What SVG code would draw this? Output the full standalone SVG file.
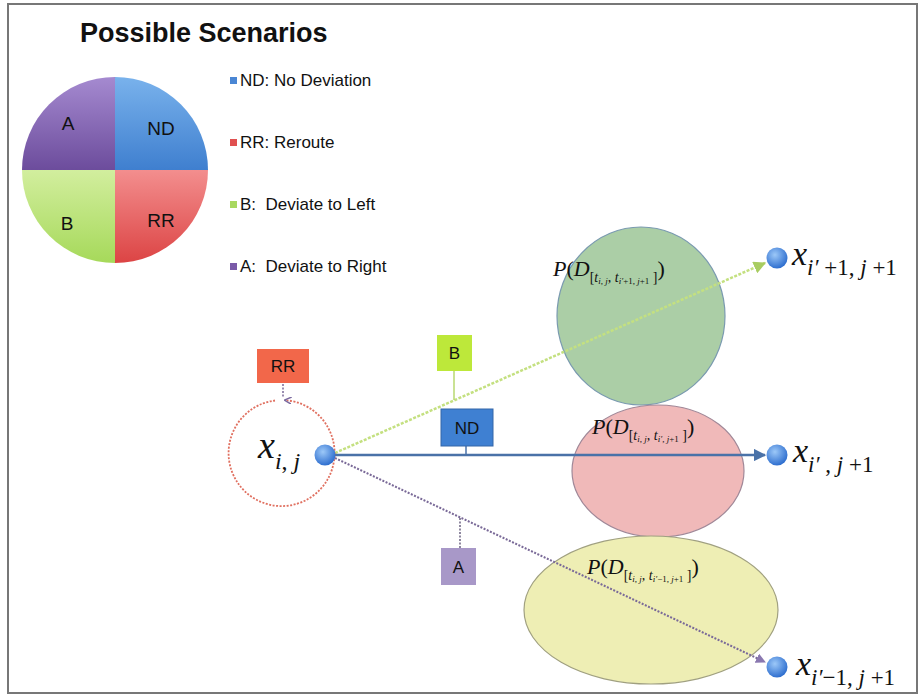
<svg xmlns="http://www.w3.org/2000/svg" width="923" height="698" viewBox="0 0 923 698">
<style>
.sans{font-family:"Liberation Sans",Arial,sans-serif;fill:#111}
.math{font-family:"Liberation Serif","Times New Roman",serif;fill:#111}
.it{font-style:italic}
.box{stroke:none}
</style>
<defs>
<linearGradient id="gA" x1="0" y1="0" x2="0" y2="1"><stop offset="0" stop-color="#a58ad0"/><stop offset="1" stop-color="#6c4c9c"/></linearGradient>
<linearGradient id="gND" x1="0" y1="0" x2="0" y2="1"><stop offset="0" stop-color="#79b2ec"/><stop offset="1" stop-color="#3f7fcf"/></linearGradient>
<linearGradient id="gB" x1="0" y1="0" x2="0" y2="1"><stop offset="0" stop-color="#d2ee9e"/><stop offset="1" stop-color="#a6d95a"/></linearGradient>
<linearGradient id="gRR" x1="0" y1="0" x2="0" y2="1"><stop offset="0" stop-color="#f38e8e"/><stop offset="1" stop-color="#dc4444"/></linearGradient>
<radialGradient id="gNode" cx="0.4" cy="0.35" r="0.65"><stop offset="0" stop-color="#9cc8f8"/><stop offset="1" stop-color="#2f6fcf"/></radialGradient>
<marker id="arrB" viewBox="0 0 10 10" refX="9" refY="5" markerWidth="5" markerHeight="5" orient="auto"><path d="M0,0 L10,5 L0,10 Z" fill="#4a72a8"/></marker>
<marker id="arrG" viewBox="0 0 10 10" refX="9" refY="5" markerWidth="5" markerHeight="5" orient="auto"><path d="M0,0 L10,5 L0,10 Z" fill="#a8cc60"/></marker>
<marker id="arrP" viewBox="0 0 10 10" refX="9" refY="5" markerWidth="5" markerHeight="5" orient="auto"><path d="M0,0 L10,5 L0,10 Z" fill="#8a78b0"/></marker>
<marker id="arrR" viewBox="0 0 10 10" refX="9" refY="5" markerWidth="4" markerHeight="4" orient="auto"><path d="M0,0 L10,5 L0,10" fill="none" stroke="#7a6aa0" stroke-width="2"/></marker>
</defs>
<rect x="0" y="0" width="923" height="698" fill="#ffffff"/>
<rect x="8" y="4" width="909" height="689" fill="none" stroke="#777" stroke-width="2"/>

<g id="legend">
<text class="sans" x="80" y="42" font-size="27" font-weight="bold">Possible Scenarios</text>
<path d="M115,170 L22,170 A93,93 0 0 1 115,77 Z" fill="url(#gA)"/>
<path d="M115,170 L115,77 A93,93 0 0 1 208,170 Z" fill="url(#gND)"/>
<path d="M115,170 L208,170 A93,93 0 0 1 115,263 Z" fill="url(#gRR)"/>
<path d="M115,170 L115,263 A93,93 0 0 1 22,170 Z" fill="url(#gB)"/>
<text class="sans" x="68" y="130" font-size="19" text-anchor="middle">A</text>
<text class="sans" x="161" y="135" font-size="19" text-anchor="middle">ND</text>
<text class="sans" x="67" y="230" font-size="19" text-anchor="middle">B</text>
<text class="sans" x="161" y="227" font-size="19" text-anchor="middle">RR</text>
<rect x="230" y="77" width="7" height="7" fill="#4a86d4"/>
<text class="sans" x="240" y="86" font-size="17">ND: No Deviation</text>
<rect x="230" y="139" width="7" height="7" fill="#e05050"/>
<text class="sans" x="240" y="148" font-size="17">RR: Reroute</text>
<rect x="230" y="201" width="7" height="7" fill="#a8d860"/>
<text class="sans" x="240" y="210" font-size="17" xml:space="preserve">B:  Deviate to Left</text>
<rect x="230" y="263" width="7" height="7" fill="#7a5aa8"/>
<text class="sans" x="240" y="272" font-size="17" xml:space="preserve">A:  Deviate to Right</text>
</g>

<g id="regions">
<ellipse cx="641" cy="316" rx="84" ry="89" fill="#abcea6" stroke="#7a9ab0" stroke-width="1.2"/>
<ellipse cx="658" cy="471" rx="86" ry="66" fill="#f0b9b9" stroke="#a08898" stroke-width="1.2"/>
<ellipse cx="651" cy="610" rx="127" ry="74" fill="#eeeeb4" stroke="#a0a080" stroke-width="1.2"/>
</g>

<g id="connectors">
<line x1="335" y1="453" x2="765" y2="263" stroke="#c4e080" stroke-width="2.5" stroke-dasharray="3,1.5" marker-end="url(#arrG)"/>
<line x1="335" y1="455" x2="765" y2="455" stroke="#4a72a8" stroke-width="2.5" marker-end="url(#arrB)"/>
<line x1="335" y1="458" x2="765" y2="662" stroke="#7a6a98" stroke-width="2" stroke-dasharray="2,1.5" marker-end="url(#arrP)"/>
<path d="M275,400.5 A53,53 0 1 0 285,400.2" fill="none" stroke="#e07060" stroke-width="1.8" stroke-dasharray="2,1.5" marker-end="url(#arrR)"/>
<line x1="283" y1="384" x2="283" y2="398" stroke="#7a6a98" stroke-width="1.5" stroke-dasharray="2,1.5"/>
<line x1="454" y1="371" x2="454" y2="400" stroke="#b8d870" stroke-width="1.5"/>
<line x1="466" y1="446" x2="466" y2="455" stroke="#4a72a8" stroke-width="1.5"/>
<line x1="460" y1="548" x2="460" y2="518" stroke="#6a6080" stroke-width="1.5" stroke-dasharray="2,1.5"/>
</g>

<g id="rr-box">
<rect class="box" x="257" y="349" width="52" height="34" fill="#f2674a"/>
<text class="sans" x="283" y="372" font-size="17" text-anchor="middle">RR</text>
</g>
<g id="b-box">
<rect class="box" x="437" y="335" width="35" height="36" fill="#bde83a"/>
<text class="sans" x="454.5" y="359" font-size="17" text-anchor="middle">B</text>
</g>
<g id="nd-box">
<rect x="441" y="409" width="52" height="37" fill="#3f80d2" stroke="#3566a8" stroke-width="1"/>
<text class="sans" x="467" y="434" font-size="17" text-anchor="middle">ND</text>
</g>
<g id="a-box">
<rect class="box" x="441" y="548" width="35" height="37" fill="#a898c8"/>
<text class="sans" x="458.5" y="573" font-size="17" text-anchor="middle">A</text>
</g>

<g id="node-xij">
<circle cx="325" cy="455" r="10.5" fill="url(#gNode)"/>
<text class="math" x="258" y="458" font-size="38"><tspan class="it">x</tspan><tspan font-size="24" dy="11"><tspan class="it">i</tspan>, <tspan class="it">j</tspan></tspan></text>
</g>

<g id="node-top">
<circle cx="777" cy="258" r="10.5" fill="url(#gNode)"/>
<text class="math" x="792" y="265" font-size="34"><tspan class="it">x</tspan><tspan font-size="23" dy="10"><tspan class="it">i′</tspan> +1, <tspan class="it">j</tspan> +1</tspan></text>
<text class="math" x="553" y="276" font-size="22"><tspan class="it">P</tspan>(<tspan class="it">D</tspan><tspan font-size="14" dy="6">[<tspan class="it">t</tspan></tspan><tspan font-size="9" dy="2"><tspan class="it">i</tspan>, <tspan class="it">j</tspan></tspan><tspan font-size="14" dy="-2">, <tspan class="it">t</tspan></tspan><tspan font-size="9" dy="2"><tspan class="it">i′</tspan>+1, <tspan class="it">j</tspan>+1</tspan><tspan font-size="14" dy="-2"> ]</tspan><tspan dy="-6">)</tspan></text>
</g>

<g id="node-mid">
<circle cx="777" cy="455" r="10.5" fill="url(#gNode)"/>
<text class="math" x="793" y="462" font-size="34"><tspan class="it">x</tspan><tspan font-size="23" dy="10"><tspan class="it">i′</tspan> , <tspan class="it">j</tspan> +1</tspan></text>
<text class="math" x="592" y="434" font-size="22"><tspan class="it">P</tspan>(<tspan class="it">D</tspan><tspan font-size="14" dy="6">[<tspan class="it">t</tspan></tspan><tspan font-size="9" dy="2"><tspan class="it">i</tspan>, <tspan class="it">j</tspan></tspan><tspan font-size="14" dy="-2">, <tspan class="it">t</tspan></tspan><tspan font-size="9" dy="2"><tspan class="it">i′</tspan>, <tspan class="it">j</tspan>+1</tspan><tspan font-size="14" dy="-2"> ]</tspan><tspan dy="-6">)</tspan></text>
</g>

<g id="node-bottom">
<circle cx="777" cy="667" r="10.5" fill="url(#gNode)"/>
<text class="math" x="796" y="675" font-size="34"><tspan class="it">x</tspan><tspan font-size="23" dy="10"><tspan class="it">i′</tspan>−1, <tspan class="it">j</tspan> +1</tspan></text>
<text class="math" x="587" y="574" font-size="22"><tspan class="it">P</tspan>(<tspan class="it">D</tspan><tspan font-size="14" dy="6">[<tspan class="it">t</tspan></tspan><tspan font-size="9" dy="2"><tspan class="it">i</tspan>, <tspan class="it">j</tspan></tspan><tspan font-size="14" dy="-2">, <tspan class="it">t</tspan></tspan><tspan font-size="9" dy="2"><tspan class="it">i′</tspan>−1, <tspan class="it">j</tspan>+1</tspan><tspan font-size="14" dy="-2"> ]</tspan><tspan dy="-6">)</tspan></text>
</g>
</svg>
